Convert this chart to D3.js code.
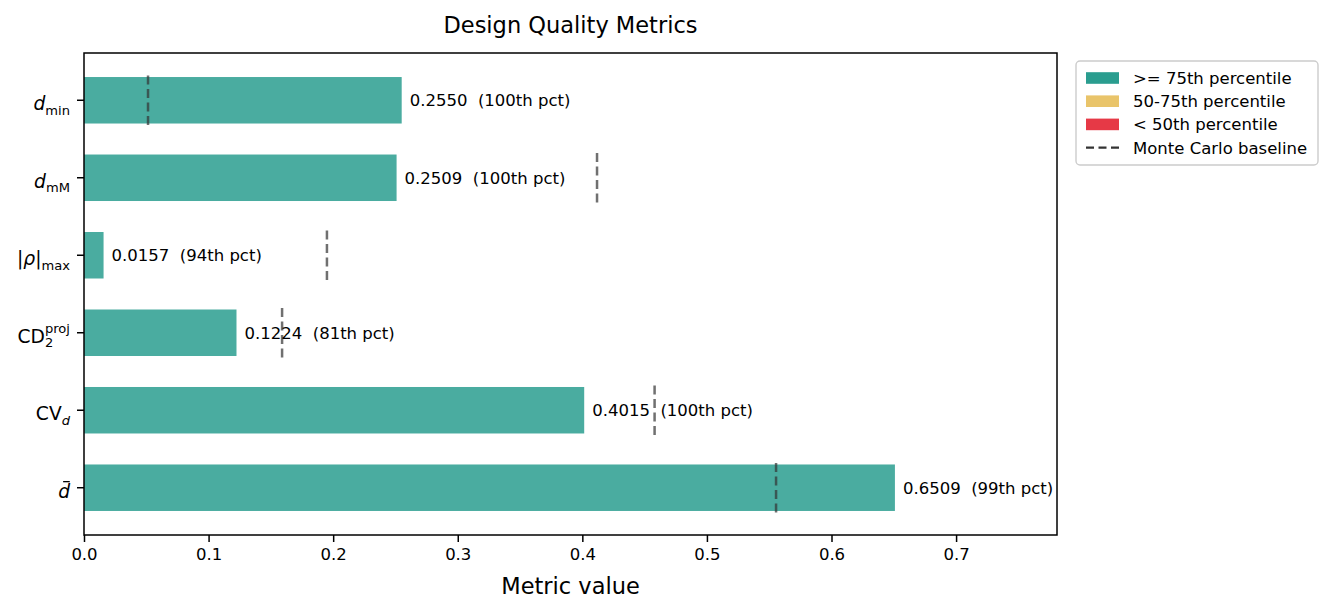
<!DOCTYPE html>
<html>
<head>
<meta charset="utf-8">
<script src="https://cdn.jsdelivr.net/npm/d3@7"></script>
<style>
  body { margin: 0; background: #fff; }
  text { font-family: "DejaVu Sans", sans-serif; fill: #000; }
</style>
</head>
<body>
<div id="chart"></div>
<script>
// metric labels, written as mathtext-like pieces
const metricLabels = [
  [{ t: "d", f: "i" }, { t: "min", f: "sub" }],
  [{ t: "d", f: "i" }, { t: "mM", f: "sub" }],
  [{ t: "|" }, { t: "\u03c1", f: "i" }, { t: "|" }, { t: "max", f: "sub" }],
  [{ t: "CD" }, { t: "2", f: "sub" }, { t: "proj", f: "sup", stack: true }],
  [{ t: "CV" }, { t: "d", f: "sub", i: true }],
  [{ t: "d", f: "i", bar: true }]
];
const values = [0.2550, 0.2509, 0.0157, 0.1224, 0.4015, 0.6509];
const percentiles = [100, 100, 94, 81, 100, 99];
const mcBaseline = [0.0514, 0.4118, 0.195, 0.159, 0.458, 0.5555];
const xTicks = [0, 0.1, 0.2, 0.3, 0.4, 0.5, 0.6, 0.7];
const legendLabels = [">= 75th percentile", "50-75th percentile", "< 50th percentile", "Monte Carlo baseline"];
const tierColors = ["#2a9d8f", "#e9c46a", "#e63946"];

const W = 1333, H = 614;
const plot = { left: 84, right: 1057, top: 53, bottom: 535 };
const fs = 16.5;
const yfs = 18.7;

const svg = d3.select("#chart").append("svg")
  .attr("width", W).attr("height", H);

const x = d3.scaleLinear().domain([0, 0.781]).range([plot.left, plot.right]);
const y = d3.scaleLinear().domain([-0.61, values.length - 1 + 0.61]).range([plot.top, plot.bottom]);

function tierColor(p) {
  if (p >= 75) return tierColors[0];
  if (p >= 50) return tierColors[1];
  return tierColors[2];
}

// bars
svg.selectAll("rect.bar").data(values).enter().append("rect")
  .attr("class", "bar")
  .attr("x", x(0))
  .attr("y", (d, i) => y(i - 0.3))
  .attr("width", d => x(d) - x(0))
  .attr("height", y(0.6) - y(0))
  .attr("fill", (d, i) => tierColor(percentiles[i]))
  .attr("fill-opacity", 0.85);

// monte carlo baselines
svg.selectAll("line.mc").data(mcBaseline).enter().append("line")
  .attr("class", "mc")
  .attr("x1", d => x(d)).attr("x2", d => x(d))
  .attr("y1", (d, i) => y(i - 0.32)).attr("y2", (d, i) => y(i + 0.32))
  .attr("stroke", "#333").attr("stroke-opacity", 0.7)
  .attr("stroke-width", 2.5).attr("stroke-dasharray", "9,4.5");

// value labels
svg.selectAll("text.val").data(values).enter().append("text")
  .attr("class", "val")
  .attr("x", d => x(d) + 8)
  .attr("y", (d, i) => y(i))
  .attr("dy", "0.36em")
  .style("font-size", fs + "px")
  .text((d, i) => `${d.toFixed(4)}\u00a0\u00a0(${percentiles[i]}th pct)`);

// frame
svg.append("rect")
  .attr("x", plot.left).attr("y", plot.top)
  .attr("width", plot.right - plot.left).attr("height", plot.bottom - plot.top)
  .attr("fill", "none").attr("stroke", "#000").attr("stroke-width", 1.5);

// x axis
const xAxis = svg.append("g")
  .attr("transform", `translate(0,${plot.bottom})`)
  .call(d3.axisBottom(x).tickValues(xTicks).tickFormat(d3.format(".1f")).tickSize(7).tickPadding(6));
xAxis.select(".domain").remove();
xAxis.selectAll(".tick line").attr("stroke", "#000").attr("stroke-width", 1.5);
xAxis.selectAll(".tick text").style("font-size", fs + "px").style("font-family", "DejaVu Sans");

// y ticks
svg.selectAll("line.ytick").data(values).enter().append("line")
  .attr("x1", plot.left - 7).attr("x2", plot.left)
  .attr("y1", (d, i) => y(i)).attr("y2", (d, i) => y(i))
  .attr("stroke", "#000").attr("stroke-width", 1.5);

// y tick labels with sub/superscripts
const subFs = yfs * 0.7;
metricLabels.forEach((parts, i) => {
  const g = svg.append("g");
  const base = y(i) + 10;
  let cx = 0, lastX = 0, maxRight = 0;
  parts.forEach(p => {
    const small = p.f === "sub" || p.f === "sup";
    let by = base;
    if (p.f === "sub") by = base + 4.5;
    if (p.f === "sup") by = base - 9.8;
    const startX = p.stack ? lastX : cx;
    const t = g.append("text")
      .attr("x", startX).attr("y", by)
      .style("font-size", (small ? subFs : yfs) + "px")
      .style("font-style", (p.f === "i" || p.i) ? "italic" : "normal")
      .text(p.t);
    const w = t.node().getComputedTextLength();
    if (p.bar) {
      const top = by - yfs * 0.86;
      g.append("line")
        .attr("x1", startX + w * 0.42).attr("x2", startX + w * 0.98)
        .attr("y1", top).attr("y2", top)
        .attr("stroke", "#000").attr("stroke-width", 1.3);
    }
    if (p.stack) {
      cx = Math.max(cx, startX + w);
    } else {
      lastX = startX;
      cx = startX + w;
    }
    maxRight = Math.max(maxRight, cx);
  });
  g.attr("transform", `translate(${plot.left - 14 - maxRight},0)`);
});

// axis titles
svg.append("text")
  .attr("x", (plot.left + plot.right) / 2).attr("y", 594)
  .attr("text-anchor", "middle").style("font-size", "22.5px")
  .text("Metric value");

svg.append("text")
  .attr("x", (plot.left + plot.right) / 2).attr("y", 32.7)
  .attr("text-anchor", "middle").style("font-size", "22.5px")
  .text("Design Quality Metrics");

// legend
const lg = svg.append("g").attr("transform", "translate(1076,61)");
lg.append("rect")
  .attr("width", 242).attr("height", 104).attr("rx", 4)
  .attr("fill", "#fff").attr("stroke", "#ccc").attr("stroke-width", 1.4);
legendLabels.forEach((lab, i) => {
  const cy = 17 + i * 23.2;
  if (i < 3) {
    lg.append("rect")
      .attr("x", 10).attr("y", cy - 5.8).attr("width", 33).attr("height", 11.6)
      .attr("fill", tierColors[i]);
  } else {
    lg.append("line")
      .attr("x1", 10).attr("x2", 43).attr("y1", cy).attr("y2", cy)
      .attr("stroke", "#333").attr("stroke-width", 2.1).attr("stroke-dasharray", "8,4.5");
  }
  lg.append("text")
    .attr("x", 57).attr("y", cy).attr("dy", "0.36em")
    .style("font-size", fs + "px")
    .text(lab);
});
</script>
</body>
</html>
